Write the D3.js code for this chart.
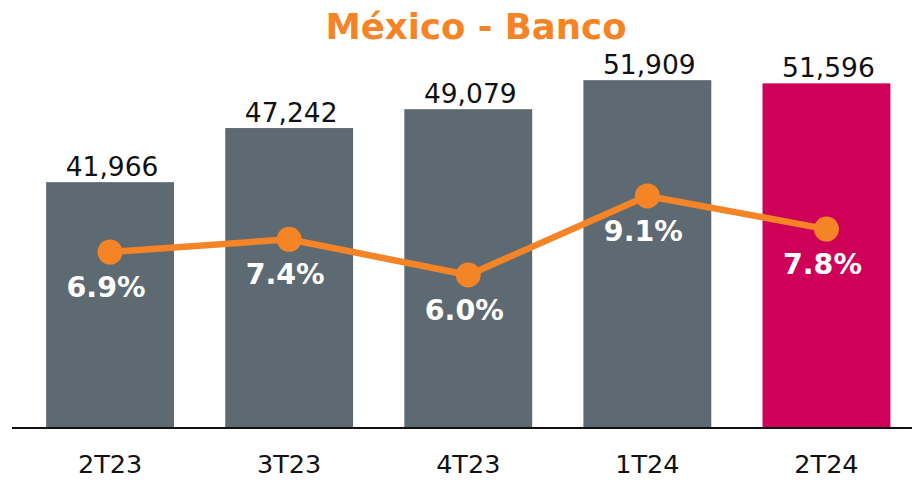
<!DOCTYPE html>
<html>
<head>
<meta charset="utf-8">
<script src="https://cdn.jsdelivr.net/npm/d3@7"></script>
<style>
  html, body { margin: 0; padding: 0; background: #fff; }
  svg { display: block; font-family: 'DejaVu Sans', Verdana, sans-serif; }
</style>
</head>
<body>
<script>
// chart data
const quarters = ['2T23', '3T23', '4T23', '1T24', '2T24'];
const balances = [41966, 47242, 49079, 51909, 51596];
const growthPct = [6.9, 7.4, 6.0, 9.1, 7.8];
const titleText = 'México - Banco';

const width = 912, height = 480;
const baseY = 428;

const svg = d3.select('body')
  .append('svg')
  .attr('width', width)
  .attr('height', height);

// scales
let x = d3.scaleBand()
  .domain(quarters)
  .range([20.5, 916])
  .paddingInner(0.286)
  .paddingOuter(0.143);

let y = d3.scaleLinear()
  .domain([18000, 58000])
  .range([baseY, baseY - 40000 * 0.010258]);

let y2 = d3.scaleLinear()
  .domain([0, 10])
  .range([baseY, 173]);

//TITLE
svg.append('text')
  .attr('x', 476)
  .attr('y', 39)
  .attr('text-anchor', 'middle')
  .attr('font-size', 35.5)
  .attr('font-weight', 'bold')
  .attr('fill', '#f58426')
  .text(titleText);

//BARS
svg.append('g')
  .selectAll('rect')
  .data(balances)
  .join('rect')
  .attr('x', (d, i) => x(quarters[i]))
  .attr('width', x.bandwidth())
  .attr('y', (d) => y(d))
  .attr('height', (d) => baseY - y(d))
  .attr('fill', (d, i) => (i === balances.length - 1 ? '#cf0057' : '#5e6a71'));

// value labels above the bars
svg.append('g')
  .selectAll('text')
  .data(balances)
  .join('text')
  .attr('x', (d, i) => x(quarters[i]) + x.bandwidth() / 2 + 2)
  .attr('y', (d) => y(d) - 6)
  .attr('text-anchor', 'middle')
  .attr('font-size', 26.5)
  .attr('fill', '#111')
  .text((d) => d3.format(',')(d));

//AXIS
let xAxis = d3.axisBottom(x).tickSize(0).tickPadding(0);
let axisG = svg.append('g')
  .attr('transform', `translate(0,${baseY})`)
  .call(xAxis);
axisG.select('.domain').remove();
axisG.selectAll('text')
  .attr('y', 45)
  .attr('dy', null)
  .attr('font-size', 25.5)
  .attr('font-family', "'DejaVu Sans', Verdana, sans-serif")
  .attr('fill', '#111');
svg.append('line')
  .attr('x1', 12)
  .attr('x2', width)
  .attr('y1', baseY)
  .attr('y2', baseY)
  .attr('stroke', '#111')
  .attr('stroke-width', 2);

//LINE
let cx = (i) => x(quarters[i]) + x.bandwidth() / 2;
let line = d3.line()
  .x((d, i) => cx(i))
  .y((d) => y2(d));

svg.append('path')
  .datum(growthPct)
  .attr('d', line)
  .attr('fill', 'none')
  .attr('stroke', '#f58426')
  .attr('stroke-width', 6.5);

svg.append('g')
  .selectAll('circle')
  .data(growthPct)
  .join('circle')
  .attr('cx', (d, i) => cx(i))
  .attr('cy', (d) => y2(d))
  .attr('r', 12.5)
  .attr('fill', '#f58426');

// percentage labels
svg.append('g')
  .selectAll('text')
  .data(growthPct)
  .join('text')
  .attr('x', (d, i) => cx(i) - 4)
  .attr('y', (d) => y2(d) + 45)
  .attr('text-anchor', 'middle')
  .attr('font-size', 28.5)
  .attr('font-weight', 'bold')
  .attr('fill', '#fff')
  .text((d) => d.toFixed(1) + '%');
</script>
</body>
</html>
